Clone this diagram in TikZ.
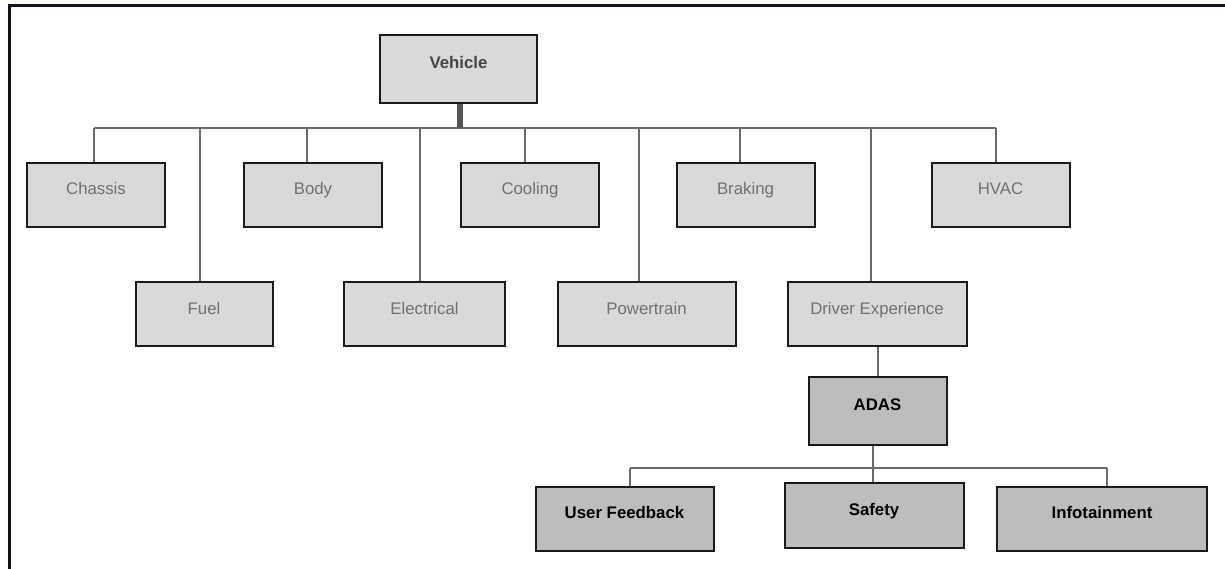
\documentclass[tikz,border=0pt]{standalone}
\usepackage{fontspec}
\setmainfont{Liberation Sans}
\definecolor{framec}{HTML}{10131F}
\definecolor{boxline}{HTML}{1A1A1A}
\definecolor{lightfill}{HTML}{D9D9D9}
\definecolor{darkfill}{HTML}{BDBDBD}
\definecolor{wire}{HTML}{6A6A6A}
\definecolor{trunkc}{HTML}{555555}
\definecolor{lighttext}{HTML}{707070}
\definecolor{roottext}{HTML}{454545}
\begin{document}
\begin{tikzpicture}[x=1pt,y=-1pt,
  box/.style={draw=boxline, line width=2pt, rectangle, inner sep=0pt,
    text height=12pt, text depth=12pt, font=\fontsize{16.8}{18}\selectfont},
  unit/.style={box, fill=lightfill, text=lighttext, minimum height=64pt},
  rootbox/.style={box, fill=lightfill, text=roottext, font=\fontsize{16.8}{18}\selectfont\bfseries,
    minimum width=157pt, minimum height=68pt},
  subbox/.style={box, fill=darkfill, text=black, font=\fontsize{16.8}{18}\selectfont\bfseries},
  conn/.style={draw=wire, line width=2pt},
  trunk/.style={draw=trunkc, line width=5.5pt}
]
\useasboundingbox (0,0) rectangle (1225,569);
\fill[white] (0,0) rectangle (1225,569);

% outer frame edges
\draw[framec, line width=3pt] (8,5.5) -- (1225,5.5);
\draw[framec, line width=3pt] (9.5,4) -- (9.5,569);

% root
\node[rootbox] (Vehicle) at (458.5,69) {Vehicle};

% first row
\node[unit, minimum width=138pt] (Chassis) at (96,195) {Chassis};
\node[unit, minimum width=138pt] (Body) at (313,195) {Body};
\node[unit, minimum width=138pt] (Cooling) at (530,195) {Cooling};
\node[unit, minimum width=138pt] (Braking) at (745.5,195) {Braking};
\node[unit, minimum width=138pt] (HVAC) at (1000.5,195) {HVAC};

% second row
\node[unit, minimum width=137pt] (Fuel) at (204,314) {Fuel};
\node[unit, minimum width=161pt] (Electrical) at (424.5,314) {Electrical};
\node[unit, minimum width=178pt] (Powertrain) at (646.5,314) {Powertrain};
\node[unit, minimum width=179pt] (Driver) at (877,314) {Driver Experience};

% driver experience subtree
\node[subbox, minimum width=138pt, minimum height=68pt] (ADAS) at (877.5,410.7) {ADAS};
\node[subbox, minimum width=178pt, minimum height=64pt] (User) at (624.5,518.7) {User Feedback};
\node[subbox, minimum width=179pt, minimum height=65pt] (Safety) at (874,515.3) {Safety};
\node[subbox, minimum width=210pt, minimum height=64pt] (Info) at (1102,518.8) {Infotainment};

% tap points on the main bus
\coordinate (xChassis) at (94,128);
\coordinate (xFuel) at (200,128);
\coordinate (xBody) at (307,128);
\coordinate (xElec) at (420,128);
\coordinate (xCool) at (525,128);
\coordinate (xRoot) at (460,128);
\coordinate (xPower) at (639,128);
\coordinate (xBrake) at (740,128);
\coordinate (xDriver) at (871,128);
\coordinate (xHVAC) at (996,128);
% tap points on the ADAS bus
\coordinate (xUser) at (630,468);
\coordinate (xSafe) at (873,468);
\coordinate (xInfo) at (1107,468);

% main bus and drops
\begin{scope}[on background layer/.style={}]
\draw[conn] (xChassis) -- (xHVAC);
\draw[conn] (xChassis) -- (xChassis |- Chassis.north);
\draw[conn] (xFuel) -- (xFuel |- Fuel.north);
\draw[conn] (xBody) -- (xBody |- Body.north);
\draw[conn] (xElec) -- (xElec |- Electrical.north);
\draw[conn] (xCool) -- (xCool |- Cooling.north);
\draw[conn] (xPower) -- (xPower |- Powertrain.north);
\draw[conn] (xBrake) -- (xBrake |- Braking.north);
\draw[conn] (xDriver) -- (xDriver |- Driver.north);
\draw[conn] (xHVAC) -- (xHVAC |- HVAC.north);
\draw[trunk] (xRoot |- Vehicle.south) -- (xRoot);
\end{scope}

% ADAS links
\draw[conn] (Driver.south -| ADAS.north) -- (ADAS.north);
\draw[conn] (ADAS.south -| xSafe) -- (xSafe);
\draw[conn] (xUser) -- (xInfo);
\draw[conn] (xUser) -- (xUser |- User.north);
\draw[conn] (xSafe) -- (xSafe |- Safety.north);
\draw[conn] (xInfo) -- (xInfo |- Info.north);
\end{tikzpicture}
\end{document}
